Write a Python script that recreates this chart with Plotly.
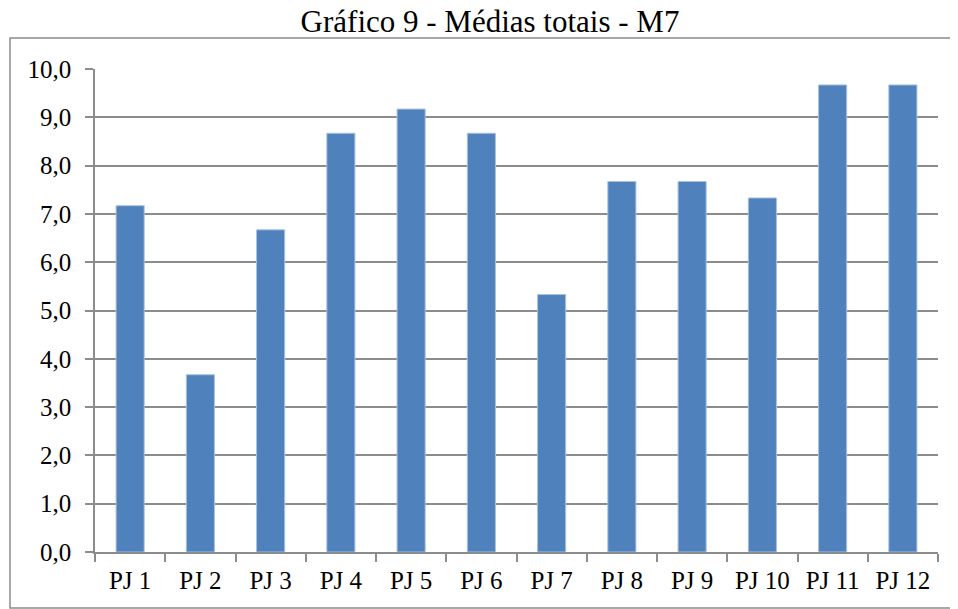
import plotly.graph_objects as go

categories = ["PJ 1", "PJ 2", "PJ 3", "PJ 4", "PJ 5", "PJ 6",
              "PJ 7", "PJ 8", "PJ 9", "PJ 10", "PJ 11", "PJ 12"]
values = [7.17, 3.67, 6.67, 8.67, 9.17, 8.67, 5.33, 7.67, 7.67, 7.33, 9.67, 9.67]
title_text = "Gráfico 9 - Médias totais - M7"

# page body has an 8px margin; build the figure so screen coords = fig coords + 8
OFF = 8
W, H = 958 - OFF, 609 - OFF
ML, MR, MT, MB = 95 - OFF, 958 - 938, 69 - OFF, 609 - 552
PW, PH = W - ML - MR, H - MT - MB

font_family = "Liberation Serif, Times New Roman, serif"
grid_color = "#8c8c8c"

fig = go.Figure(go.Bar(
    x=categories, y=values,
    marker=dict(color="#4F81BD", line=dict(color="#a9c1e0", width=1)),
))

fig.update_layout(
    width=W, height=H,
    margin=dict(l=ML, r=MR, t=MT, b=MB),
    paper_bgcolor="white", plot_bgcolor="white",
    separators=",.",
    bargap=0.6,
    showlegend=False,
    font=dict(family=font_family, size=25, color="black"),
    title=dict(text=title_text, x=(490 - OFF) / W, xanchor="center",
               y=1 - (21 - OFF) / H, yanchor="middle",
               font=dict(family=font_family, size=31, color="black")),
    xaxis=dict(showline=True, linecolor=grid_color, linewidth=1.5,
               ticks="outside", tickson="boundaries", ticklen=8, tickcolor=grid_color,
               tickwidth=1.5, tickfont=dict(size=25), showgrid=False,
               ticklabelstandoff=5),
    yaxis=dict(range=[0, 10], dtick=1, tickformat=".1f", showline=True,
               linecolor=grid_color, linewidth=1.5, ticks="outside", ticklen=8,
               tickcolor=grid_color, tickwidth=1.5, showgrid=True, gridcolor=grid_color,
               gridwidth=1.5, tickfont=dict(size=25), zeroline=False,
               ticklabelstandoff=9),
    shapes=[dict(type="rect", xref="paper", yref="paper",
                 x0=(10 - OFF - ML) / PW, x1=(957 - OFF - ML) / PW,
                 y0=-(608 - 552) / PH, y1=1 + (69 - 38) / PH,
                 line=dict(color=grid_color, width=1.5), fillcolor="rgba(0,0,0,0)",
                 layer="below")],
)

fig.write_html("out.html")
